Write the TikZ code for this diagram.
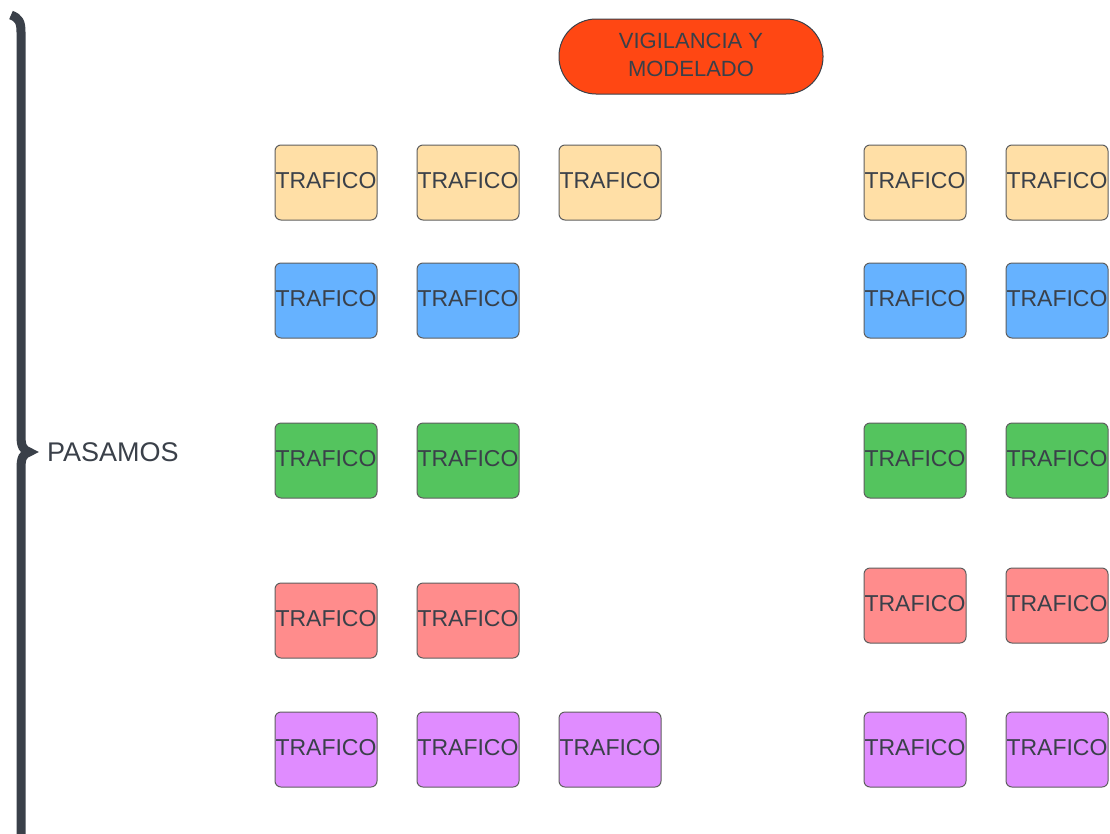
\documentclass[tikz,border=0pt]{standalone}
\usepackage{fontspec}
\setmainfont{Liberation Sans}
\definecolor{peach}{HTML}{FFDFA6}
\definecolor{sky}{HTML}{66B2FF}
\definecolor{leaf}{HTML}{54C45E}
\definecolor{rose}{HTML}{FF8C8C}
\definecolor{lilac}{HTML}{E08CFF}
\definecolor{flame}{HTML}{FF4713}
\definecolor{ink}{HTML}{3A4049}
\definecolor{edge}{HTML}{5E5E5E}
\usetikzlibrary{positioning}
\tikzstyle{base}=[x=1pt, y=-1pt, inner sep=0pt, outer sep=0pt]
\tikzstyle{card}=[draw=edge, line width=1pt, rounded corners=6pt,
  minimum width=102pt, minimum height=75pt, text=ink,
  text height=16.5pt, text depth=5pt,
  font=\fontsize{23}{26}\selectfont]

\begin{document}
\begin{tikzpicture}[base]
    \path [use as bounding box] (0,0) rectangle (1110,833);
    % brace
    \draw [ink, line width=9pt] (11,15) .. controls (19,18) and (21,22) .. (21,32)
        -- (21,436) .. controls (21,446) and (23,450) .. (29,452)
        .. controls (23,454) and (21,458) .. (21,468) -- (21,840);
    \node [text=ink, anchor=west, font=\fontsize{27}{30}\selectfont] (pasamos) at (47,452) {PASAMOS};
    % title
    \node [draw=ink, line width=1pt, fill=flame, rounded corners=37pt,
        minimum width=264pt, minimum height=75pt, text=ink,
        font=\fontsize{22}{28}\selectfont] (vigilancia) at (691,56.5)
        {\raisebox{2pt}{\begin{tabular}{c}VIGILANCIA Y\\MODELADO\end{tabular}}};
    % row 1
    \node [card, fill=peach] (p1) at (326,182.5) {TRAFICO};
    \node [card, fill=peach] (p2) at (468,182.5) {TRAFICO};
    \node [card, fill=peach] (p3) at (610,182.5) {TRAFICO};
    \node [card, fill=peach] (p4) at (915,182.5) {TRAFICO};
    \node [card, fill=peach] (p5) at (1057,182.5) {TRAFICO};
    % row 2
    \node [card, fill=sky] (s1) at (326,300.5) {TRAFICO};
    \node [card, fill=sky] (s2) at (468,300.5) {TRAFICO};
    \node [card, fill=sky] (s4) at (915,300.5) {TRAFICO};
    \node [card, fill=sky] (s5) at (1057,300.5) {TRAFICO};
    % row 3
    \node [card, fill=leaf] (l1) at (326,460.5) {TRAFICO};
    \node [card, fill=leaf] (l2) at (468,460.5) {TRAFICO};
    \node [card, fill=leaf] (l4) at (915,460.5) {TRAFICO};
    \node [card, fill=leaf] (l5) at (1057,460.5) {TRAFICO};
    % row 4
    \node [card, fill=rose] (r1) at (326,620.5) {TRAFICO};
    \node [card, fill=rose] (r2) at (468,620.5) {TRAFICO};
    \node [card, fill=rose] (r4) at (915,605.5) {TRAFICO};
    \node [card, fill=rose] (r5) at (1057,605.5) {TRAFICO};
    % row 5
    \node [card, fill=lilac] (v1) at (326,749.5) {TRAFICO};
    \node [card, fill=lilac] (v2) at (468,749.5) {TRAFICO};
    \node [card, fill=lilac] (v3) at (610,749.5) {TRAFICO};
    \node [card, fill=lilac] (v4) at (915,749.5) {TRAFICO};
    \node [card, fill=lilac] (v5) at (1057,749.5) {TRAFICO};
\end{tikzpicture}
\end{document}
